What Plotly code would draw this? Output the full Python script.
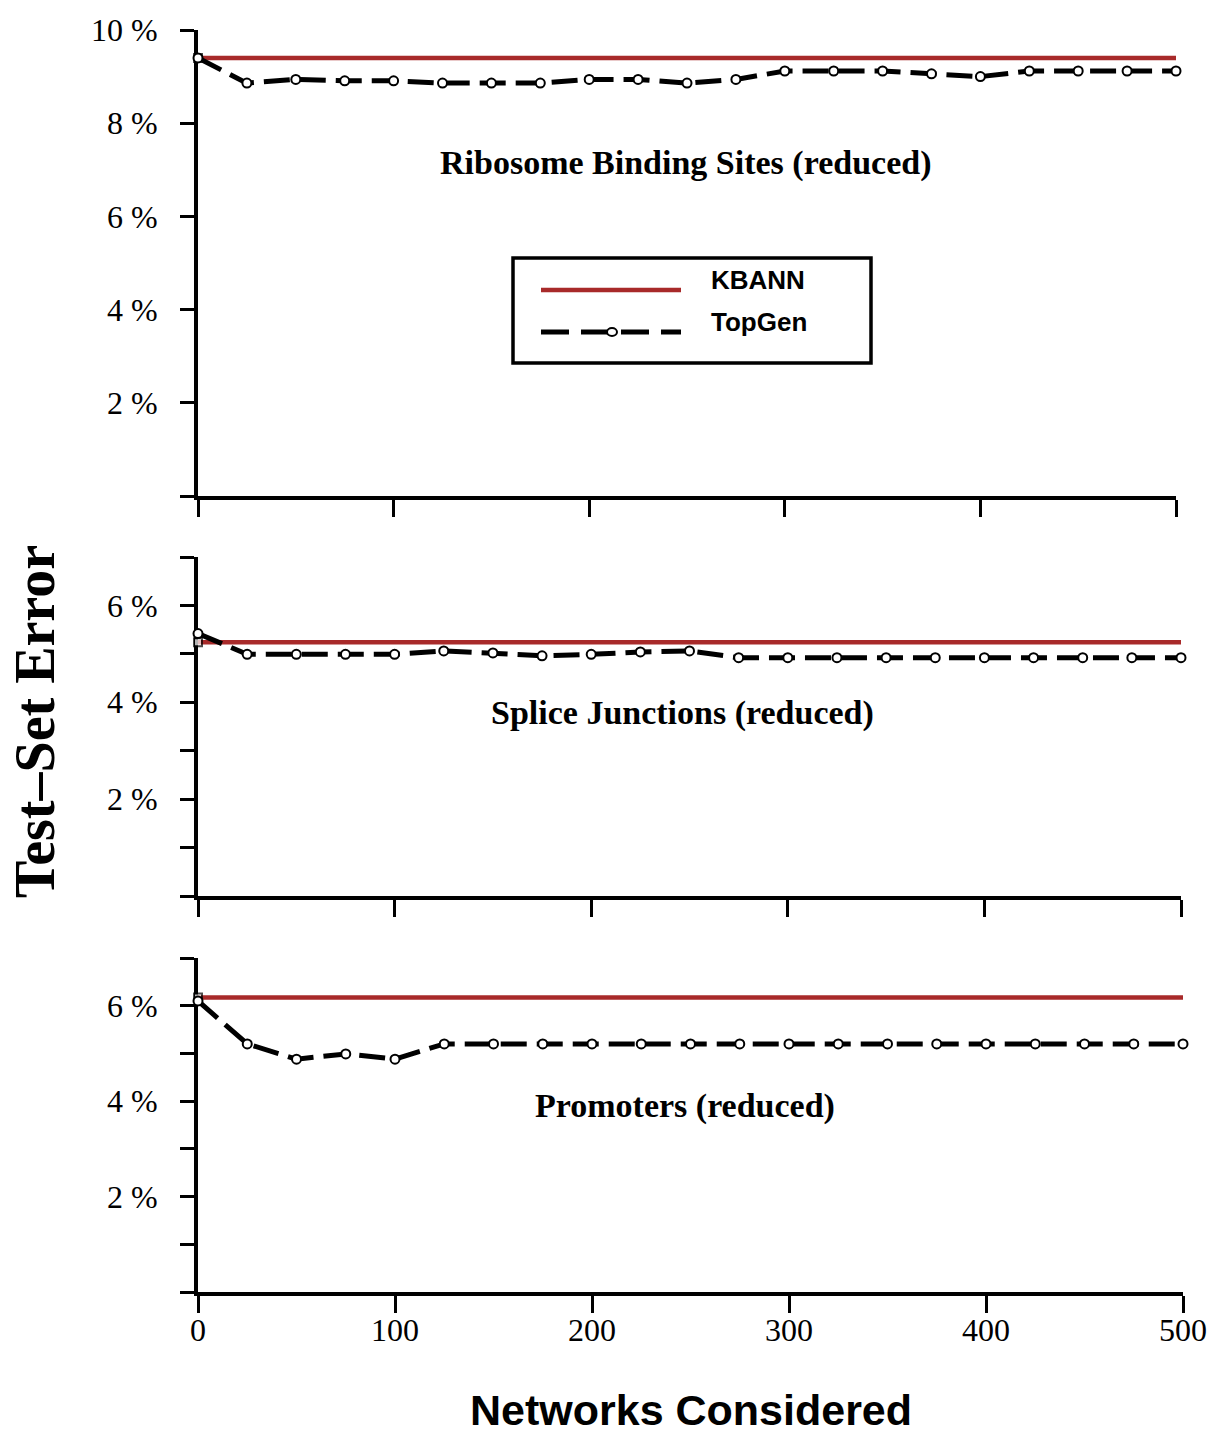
import plotly.graph_objects as go

W, H = 1207, 1435

networks = [0, 25, 50, 75, 100, 125, 150, 175, 200, 225, 250, 275, 300, 325, 350, 375, 400, 425, 450, 475, 500]

rbs_topgen = [9.4, 8.86, 8.94, 8.91, 8.91, 8.86, 8.86, 8.86, 8.94, 8.94, 8.86, 8.94, 9.12, 9.12, 9.12, 9.06, 9.0, 9.12, 9.12, 9.12, 9.12]
rbs_kbann = 9.4

splice_topgen = [5.42, 4.99, 4.99, 4.99, 4.99, 5.06, 5.02, 4.96, 4.99, 5.04, 5.06, 4.92, 4.92, 4.92, 4.92, 4.92, 4.92, 4.92, 4.92, 4.92, 4.92]
splice_kbann = 5.24

prom_topgen = [6.1, 5.2, 4.88, 4.99, 4.88, 5.2, 5.2, 5.2, 5.2, 5.2, 5.2, 5.2, 5.2, 5.2, 5.2, 5.2, 5.2, 5.2, 5.2, 5.2, 5.2]
prom_kbann = 6.17

panel_titles = ["Ribosome Binding Sites (reduced)", "Splice Junctions (reduced)", "Promoters (reduced)"]
x_ticks = [0, 100, 200, 300, 400, 500]
y_ticks_top = [0, 2, 4, 6, 8, 10]
y_ticks_low = [0, 1, 2, 3, 4, 5, 6, 7]

RED = "#a82a2a"


def px(x):
    return x / W


def py(y):
    return 1 - y / H


# panel pixel boxes: (x0, x1, ytop, ybottom)
boxes = [(198, 1176, 30, 496), (198, 1181, 557, 896), (198, 1183, 958, 1292)]

fig = go.Figure()

series = [(rbs_topgen, rbs_kbann), (splice_topgen, splice_kbann), (prom_topgen, prom_kbann)]
for i, (tg, kb) in enumerate(series):
    xa = "x" if i == 0 else f"x{i+1}"
    ya = "y" if i == 0 else f"y{i+1}"
    fig.add_trace(go.Scatter(
        x=[networks[0], networks[-1]], y=[kb, kb], xaxis=xa, yaxis=ya,
        mode="lines+markers", line=dict(color=RED, width=4.5),
        marker=dict(symbol="square", size=[8, 0], color="white", line=dict(color="black", width=2)),
        showlegend=False, cliponaxis=False))
    fig.add_trace(go.Scatter(
        x=networks, y=tg, xaxis=xa, yaxis=ya,
        mode="lines+markers", line=dict(color="black", width=5, dash="26px,10px"),
        marker=dict(symbol="circle", size=9, color="white", line=dict(color="black", width=2)),
        showlegend=False, cliponaxis=False))

axis_font = dict(family="Liberation Serif, Times New Roman, serif", size=32, color="black")
layout = dict(template="none", width=W, height=H,
              margin=dict(l=0, r=0, t=0, b=0, pad=0, autoexpand=False),
              plot_bgcolor="white", paper_bgcolor="white", showlegend=False)

for i, (x0, x1, yt, yb) in enumerate(boxes):
    sx = "" if i == 0 else str(i + 1)
    yt_vals = y_ticks_top if i == 0 else y_ticks_low
    ymax = 10 if i == 0 else 7
    ytext = [f"{v} %" if (v > 0 and v % 2 == 0) else "" for v in yt_vals]
    layout[f"xaxis{sx}"] = dict(
        domain=[px(x0), px(x1)], anchor=f"y{sx}", range=[0, 500], automargin=False,
        showgrid=False, zeroline=False, showline=True, linecolor="black", linewidth=4,
        ticks="outside", ticklen=17, tickwidth=2.5, tickcolor="black",
        tickvals=x_ticks, ticktext=[str(v) for v in x_ticks] if i == 2 else [""] * len(x_ticks),
        tickfont=axis_font, ticklabelstandoff=-10, layer="below traces", fixedrange=True)
    layout[f"yaxis{sx}"] = dict(
        domain=[py(yb), py(yt)], anchor=f"x{sx}", range=[0, ymax], automargin=False,
        showgrid=False, zeroline=False, showline=True, linecolor="black", linewidth=4,
        ticks="outside", ticklen=14, tickwidth=2.5, tickcolor="black",
        tickvals=yt_vals, ticktext=ytext, tickfont=axis_font,
        ticklabelstandoff=16, layer="below traces", fixedrange=True)

fig.update_layout(**layout)

title_pos = [(685, 163), (682, 713), (685, 1106)]
for t, (cx, cy) in zip(panel_titles, title_pos):
    fig.add_annotation(text=f"<b>{t}</b>", x=px(cx), y=py(cy), xref="paper", yref="paper",
                       showarrow=False, xanchor="center", yanchor="middle",
                       font=dict(family="Liberation Serif, Times New Roman, serif", size=34, color="black"))

fig.add_annotation(text="<b>Test–Set Error</b>", x=px(35), y=py(722), xref="paper", yref="paper",
                   showarrow=False, textangle=-90, xanchor="center", yanchor="middle",
                   font=dict(family="Liberation Serif, Times New Roman, serif", size=56, color="black"))
fig.add_annotation(text="<b>Networks Considered</b>", x=px(691), y=py(1410), xref="paper", yref="paper",
                   showarrow=False, xanchor="center", yanchor="middle",
                   font=dict(family="Liberation Sans, Arial, sans-serif", size=43, color="black"))

# legend (drawn manually)
fig.add_shape(type="rect", xref="paper", yref="paper", x0=px(513), x1=px(871), y0=py(363), y1=py(258),
              line=dict(color="black", width=3.5), fillcolor="white", layer="above")
fig.add_shape(type="line", xref="paper", yref="paper", x0=px(541), x1=px(681), y0=py(290), y1=py(290),
              line=dict(color=RED, width=4.5))
fig.add_shape(type="line", xref="paper", yref="paper", x0=px(541), x1=px(681), y0=py(332), y1=py(332),
              line=dict(color="black", width=5, dash="28px,12px"))
fig.add_shape(type="circle", xref="paper", yref="paper", x0=px(607), x1=px(617), y0=py(336), y1=py(328),
              line=dict(color="black", width=2), fillcolor="white")
for lbl, cy in [("KBANN", 280), ("TopGen", 322)]:
    fig.add_annotation(text=f"<b>{lbl}</b>", x=px(709), y=py(cy), xref="paper", yref="paper",
                       showarrow=False, xanchor="left", yanchor="middle",
                       font=dict(family="Liberation Sans, Arial, sans-serif", size=26, color="black"))

fig.write_html("out.html", config={"displayModeBar": False},
               post_script="document.body.style.margin='0';document.body.style.overflow='hidden';")
